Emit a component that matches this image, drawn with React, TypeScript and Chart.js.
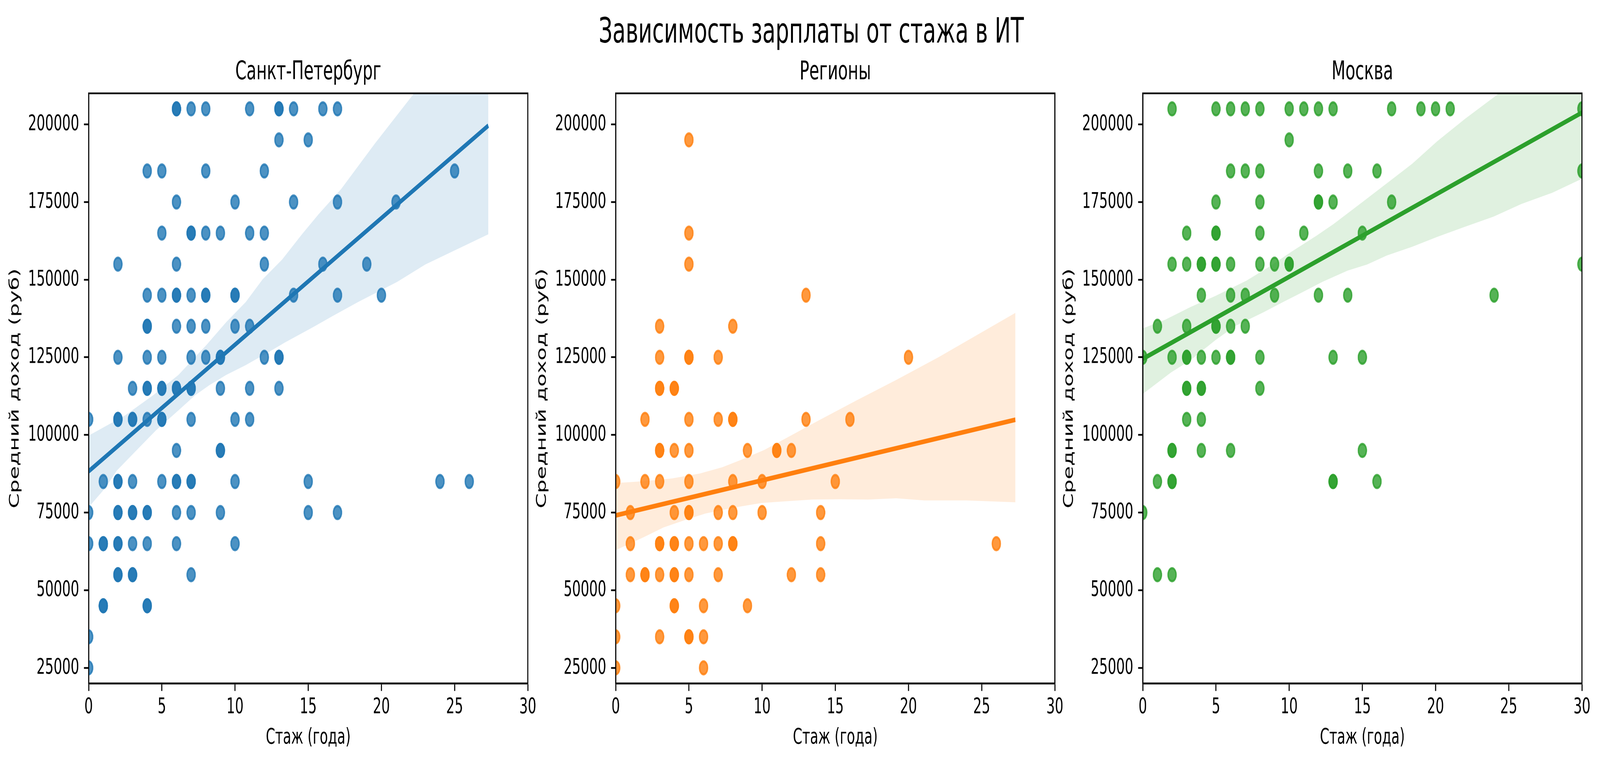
import React, { useEffect, useRef, useState } from 'react'
import { Chart, registerables, type ChartConfiguration } from 'chart.js'

Chart.register(...registerables)

type Pt = [number, number]

const suptitle = 'Зависимость зарплаты от стажа в ИТ'
const xLabel = 'Стаж (года)'
const yLabel = 'Средний доход (руб)'
const xTicks = [0, 5, 10, 15, 20, 25, 30]
const yTicks = [25000, 50000, 75000, 100000, 125000, 150000, 175000, 200000]

// [стаж, доход]; repeated pairs are respondents that overlap
const spbPoints: Pt[] = [
  [6, 205000], [6, 205000], [7, 205000], [8, 205000], [11, 205000], [13, 205000], [13, 205000], [14, 205000], [16, 205000], [17, 205000],
  [13, 195000], [15, 195000],
  [4, 185000], [5, 185000], [8, 185000], [12, 185000], [25, 185000],
  [6, 175000], [10, 175000], [14, 175000], [17, 175000], [21, 175000],
  [5, 165000], [7, 165000], [7, 165000], [8, 165000], [9, 165000], [11, 165000], [12, 165000],
  [2, 155000], [6, 155000], [12, 155000], [16, 155000], [19, 155000],
  [4, 145000], [5, 145000], [6, 145000], [6, 145000], [7, 145000], [8, 145000], [8, 145000], [10, 145000], [10, 145000], [14, 145000], [17, 145000], [20, 145000],
  [4, 135000], [4, 135000], [6, 135000], [7, 135000], [8, 135000], [10, 135000], [11, 135000],
  [2, 125000], [4, 125000], [5, 125000], [7, 125000], [8, 125000], [9, 125000], [9, 125000], [12, 125000], [13, 125000], [13, 125000],
  [3, 115000], [4, 115000], [4, 115000], [5, 115000], [5, 115000], [6, 115000], [6, 115000], [7, 115000], [7, 115000], [9, 115000], [11, 115000], [13, 115000],
  [0, 105000], [2, 105000], [2, 105000], [3, 105000], [3, 105000], [4, 105000], [5, 105000], [5, 105000], [7, 105000], [10, 105000], [11, 105000],
  [6, 95000], [9, 95000], [9, 95000],
  [1, 85000], [2, 85000], [2, 85000], [3, 85000], [5, 85000], [6, 85000], [6, 85000], [7, 85000], [7, 85000], [10, 85000], [15, 85000], [24, 85000], [26, 85000],
  [0, 75000], [2, 75000], [2, 75000], [3, 75000], [3, 75000], [4, 75000], [4, 75000], [6, 75000], [7, 75000], [9, 75000], [15, 75000], [17, 75000],
  [0, 65000], [1, 65000], [1, 65000], [2, 65000], [2, 65000], [3, 65000], [4, 65000], [6, 65000], [10, 65000],
  [2, 55000], [2, 55000], [3, 55000], [3, 55000], [7, 55000],
  [1, 45000], [1, 45000], [4, 45000], [4, 45000],
  [0, 35000], [0, 25000],
]
const spbLine: Pt[] = [[0, 88300], [27.3, 199600]]
const spbUpper: Pt[] = [
  [0, 99800], [2.49, 106300], [4.41, 112800], [6.13, 119300], [8.05, 129000], [9.39, 136300], [10.73, 142800],
  [11.88, 150100], [13.22, 156500], [14.57, 164600], [15.71, 171100], [17.25, 179200], [19.55, 193800], [22.23, 210000], [27.3, 240000],
]
const spbLower: Pt[] = [
  [0, 76700], [1.15, 83000], [1.92, 88500], [3.26, 95000], [4.6, 101500], [6.13, 107900], [7.28, 112800], [8.24, 116000],
  [9.39, 119300], [10.73, 122500], [12.27, 126600], [13.42, 129800], [15.33, 134700], [16.67, 138300], [18.4, 142800],
  [21.08, 149300], [23.0, 154900], [27.3, 164600],
]

const regPoints: Pt[] = [
  [5, 195000], [5, 165000], [5, 155000], [13, 145000],
  [3, 135000], [8, 135000],
  [3, 125000], [5, 125000], [5, 125000], [7, 125000], [20, 125000],
  [3, 115000], [3, 115000], [4, 115000], [4, 115000],
  [2, 105000], [5, 105000], [7, 105000], [8, 105000], [8, 105000], [13, 105000], [16, 105000],
  [3, 95000], [3, 95000], [4, 95000], [5, 95000], [9, 95000], [11, 95000], [11, 95000], [12, 95000],
  [0, 85000], [2, 85000], [3, 85000], [5, 85000], [8, 85000], [10, 85000], [15, 85000],
  [1, 75000], [4, 75000], [5, 75000], [5, 75000], [7, 75000], [8, 75000], [10, 75000], [14, 75000],
  [1, 65000], [3, 65000], [3, 65000], [4, 65000], [4, 65000], [5, 65000], [6, 65000], [7, 65000], [8, 65000], [8, 65000], [14, 65000], [26, 65000],
  [1, 55000], [2, 55000], [2, 55000], [3, 55000], [4, 55000], [4, 55000], [5, 55000], [7, 55000], [12, 55000], [14, 55000],
  [0, 45000], [4, 45000], [4, 45000], [6, 45000], [9, 45000],
  [0, 35000], [3, 35000], [5, 35000], [5, 35000], [6, 35000],
  [0, 25000], [6, 25000],
]
const regLine: Pt[] = [[0, 74100], [27.3, 104900]]
const regUpper: Pt[] = [
  [0, 84500], [1.92, 85100], [3.83, 86000], [5.75, 87600], [7.28, 89600], [8.62, 92100], [10.16, 95200],
  [11.69, 99100], [13.8, 104500], [16.48, 111200], [19.16, 117700], [22.04, 125000], [27.3, 139300],
]
const regLower: Pt[] = [
  [0, 62900], [1.92, 67100], [3.26, 70200], [4.79, 72700], [6.13, 74700], [8.05, 76600], [9.97, 78100], [11.5, 78600],
  [13.42, 79200], [15.33, 79300], [17.25, 79200], [19.16, 79600], [21.08, 78900], [23.96, 78900], [27.3, 78300],
]

const mskPoints: Pt[] = [
  [2, 205000], [5, 205000], [6, 205000], [7, 205000], [8, 205000], [10, 205000], [11, 205000], [12, 205000], [13, 205000], [17, 205000], [19, 205000], [20, 205000], [21, 205000], [30, 205000],
  [10, 195000],
  [6, 185000], [7, 185000], [8, 185000], [12, 185000], [14, 185000], [16, 185000], [30, 185000],
  [5, 175000], [8, 175000], [12, 175000], [12, 175000], [13, 175000], [17, 175000],
  [3, 165000], [5, 165000], [5, 165000], [8, 165000], [11, 165000], [15, 165000],
  [2, 155000], [3, 155000], [4, 155000], [4, 155000], [5, 155000], [5, 155000], [6, 155000], [8, 155000], [9, 155000], [10, 155000], [10, 155000], [30, 155000],
  [4, 145000], [6, 145000], [7, 145000], [9, 145000], [12, 145000], [14, 145000], [24, 145000],
  [1, 135000], [3, 135000], [5, 135000], [5, 135000], [6, 135000], [7, 135000],
  [0, 125000], [2, 125000], [3, 125000], [3, 125000], [4, 125000], [5, 125000], [6, 125000], [6, 125000], [8, 125000], [13, 125000], [15, 125000],
  [3, 115000], [3, 115000], [4, 115000], [4, 115000], [8, 115000],
  [3, 105000], [4, 105000],
  [2, 95000], [2, 95000], [4, 95000], [6, 95000], [15, 95000],
  [1, 85000], [2, 85000], [2, 85000], [13, 85000], [13, 85000], [16, 85000],
  [0, 75000], [1, 55000], [2, 55000],
]
const mskLine: Pt[] = [[0, 124500], [30, 203800]]
const mskUpper: Pt[] = [
  [0, 134300], [1.53, 137100], [3.26, 141200], [4.98, 144800], [7.09, 149700], [8.62, 154100], [10.16, 159000],
  [11.88, 164200], [13.03, 167900], [14.95, 174800], [16.86, 181700], [18.4, 187300], [20.12, 194600],
  [22.04, 201900], [24.34, 210000], [30, 230000],
]
const mskLower: Pt[] = [
  [0, 113200], [1.92, 120100], [3.26, 124100], [4.98, 130600], [6.32, 135100], [8.24, 139500], [9.58, 142800],
  [10.92, 146000], [12.27, 149300], [13.99, 152900], [15.33, 154900], [16.67, 157800], [18.4, 160600],
  [20.12, 163800], [22.04, 167100], [23.96, 170300], [25.87, 174400], [27.98, 178000], [30, 182500],
]

const FIG_W = 6642
const FIG_H = 1959
const PLOT_W = 1823
const PLOT_BOTTOM = 1750
const Y_AXIS_W = 373
const RIGHT_PAD = 60
const FAMILY = 'DejaVu Sans'

// matplotlib draws all four spines on top of the data
const framePlugin = {
  id: 'frame',
  afterDraw(chart: Chart) {
    const { ctx, chartArea: a } = chart
    ctx.save()
    ctx.strokeStyle = '#000'
    ctx.lineWidth = 4.4
    ctx.strokeRect(a.left, a.top, a.right - a.left, a.bottom - a.top)
    ctx.restore()
  },
}

interface PanelProps {
  left: number
  title: string
  points: Pt[]
  line: Pt[]
  upper: Pt[]
  lower: Pt[]
  rgb: string
}

function Panel({ left, title, points, line, upper, lower, rgb }: PanelProps) {
  const canvasRef = useRef<HTMLCanvasElement>(null)
  const chartRef = useRef<Chart | null>(null)

  useEffect(() => {
    if (!canvasRef.current) return
    chartRef.current?.destroy()

    const toXY = (arr: Pt[]) => arr.map(([x, y]) => ({ x, y }))
    const font = { family: FAMILY, size: 55.6 }
    const axisCommon = {
      type: 'linear' as const,
      grid: { drawOnChartArea: false, drawTicks: true, tickLength: 19.4, tickWidth: 4.4, tickColor: '#000' },
      border: { display: true, color: '#000', width: 4.4 },
    }

    const cfg: ChartConfiguration = {
      type: 'scatter',
      data: {
        datasets: [
          {
            type: 'line', data: toXY(line), borderColor: `rgb(${rgb})`, borderWidth: 12,
            pointRadius: 0, fill: false, clip: 0, order: 0,
          } as any,
          {
            type: 'scatter', data: toXY(points), backgroundColor: `rgba(${rgb},0.8)`,
            borderColor: `rgba(${rgb},0.8)`, borderWidth: 5.6, pointRadius: 16.7, clip: 0, order: 1,
          } as any,
          {
            type: 'line', data: toXY(upper), borderColor: 'transparent', borderWidth: 0, pointRadius: 0,
            backgroundColor: `rgba(${rgb},0.15)`, fill: '+1', clip: 0, order: 2,
          } as any,
          {
            type: 'line', data: toXY(lower), borderColor: 'transparent', borderWidth: 0, pointRadius: 0,
            fill: false, clip: 0, order: 3,
          } as any,
        ],
      },
      options: {
        responsive: false,
        animation: false,
        devicePixelRatio: 1,
        layout: { padding: { left: 0, right: RIGHT_PAD, top: 0, bottom: 0 } },
        plugins: {
          legend: { display: false },
          tooltip: { enabled: false },
          title: {
            display: true,
            text: title,
            fullSize: false,
            color: '#000',
            font: { family: FAMILY, size: 66.7, weight: 'normal', lineHeight: 1.2 },
            padding: { top: 146, bottom: 13 },
          },
        },
        scales: {
          x: {
            ...axisCommon,
            min: 0,
            max: 30,
            afterBuildTicks: (s: any) => { s.ticks = xTicks.map(v => ({ value: v })) },
            afterFit: (s: any) => { s.height = FIG_H - PLOT_BOTTOM },
            ticks: { color: '#000', font, padding: 9, maxRotation: 0, autoSkip: false },
            title: { display: true, text: xLabel, color: '#000', font, padding: { top: 0, bottom: 35.6 } },
          },
          y: {
            ...axisCommon,
            min: 20000,
            max: 210000,
            afterBuildTicks: (s: any) => { s.ticks = yTicks.map(v => ({ value: v })) },
            afterFit: (s: any) => { s.width = Y_AXIS_W },
            ticks: { color: '#000', font, padding: 20, autoSkip: false, callback: (v: any) => String(v) },
            title: { display: true, text: yLabel, color: '#000', font, padding: { top: 34, bottom: 0 } },
          },
        },
      } as any,
      plugins: [framePlugin],
    }
    chartRef.current = new Chart(canvasRef.current, cfg)
    return () => { chartRef.current?.destroy() }
  }, [left, title, points, line, upper, lower, rgb])

  const w = Y_AXIS_W + PLOT_W + RIGHT_PAD
  return (
    <canvas
      ref={canvasRef}
      width={w}
      height={FIG_H}
      style={{ position: 'absolute', left: left - Y_AXIS_W, top: 0, width: w, height: FIG_H }}
    />
  )
}

export default function App() {
  // the window may be narrower than the figure: fit the whole figure into it
  const [fit, setFit] = useState({ sx: 1, sy: 1 })

  useEffect(() => {
    document.body.style.margin = '0'
    const onResize = () => setFit({
      sx: Math.min(1, window.innerWidth / FIG_W),
      sy: Math.min(1, window.innerHeight / FIG_H),
    })
    onResize()
    window.addEventListener('resize', onResize)
    return () => window.removeEventListener('resize', onResize)
  }, [])

  return (
    <div style={{ width: FIG_W * fit.sx, height: FIG_H * fit.sy, overflow: 'hidden' }}>
      <div
        style={{
          position: 'relative', width: FIG_W, height: FIG_H, background: '#fff',
          transform: `scale(${fit.sx}, ${fit.sy})`, transformOrigin: '0 0',
        }}
      >
        <div
          style={{
            position: 'absolute', left: 3368 - 2000, width: 4000, top: 34, textAlign: 'center',
            fontFamily: FAMILY, fontSize: 89, lineHeight: '89px', color: '#000', whiteSpace: 'nowrap',
          }}
        >
          {suptitle}
        </div>
        <Panel left={367.5} title="Санкт-Петербург" points={spbPoints} line={spbLine} upper={spbUpper} lower={spbLower} rgb="31,119,180" />
        <Panel left={2556} title="Регионы" points={regPoints} line={regLine} upper={regUpper} lower={regLower} rgb="255,127,14" />
        <Panel left={4744} title="Москва" points={mskPoints} line={mskLine} upper={mskUpper} lower={mskLower} rgb="44,160,44" />
      </div>
    </div>
  )
}
